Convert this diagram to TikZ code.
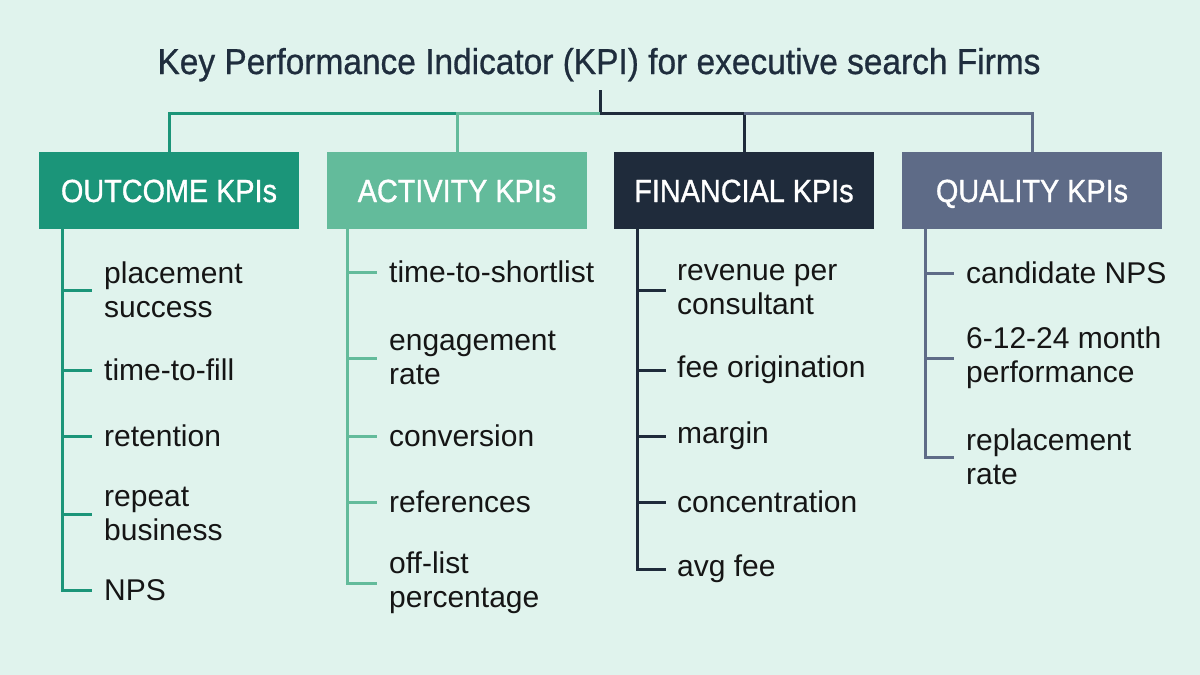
\documentclass[tikz,border=0pt]{standalone}
\usepackage{fontspec}
\setmainfont{Liberation Sans}
\newfontfamily\medfont[FakeBold=1.2]{Liberation Sans}
\newfontfamily\ttlfont[FakeBold=0.8]{Liberation Sans}
\usepackage{graphicx}
\definecolor{bg}{HTML}{E0F3ED}
\definecolor{cout}{HTML}{1B9579}
\definecolor{cact}{HTML}{63BB9B}
\definecolor{cfin}{HTML}{1F2B3B}
\definecolor{cqual}{HTML}{5E6B87}
\definecolor{ttl}{HTML}{1F2D3D}
\definecolor{itm}{HTML}{151515}
\tikzset{
  hdr/.style={minimum width=260pt, minimum height=77pt, inner sep=0pt, text=white,
    text height=23pt, text depth=0pt,
    font=\medfont\fontsize{32}{36}\selectfont},
  itemtxt/.style={anchor=west, inner sep=0pt, align=left, text=itm,
    font=\fontsize{30}{34}\selectfont},
  conn/.style={line width=3pt},
}
\begin{document}
\begin{tikzpicture}[x=1pt,y=-1pt]
\fill[bg] (0,0) rectangle (1200,675);
\useasboundingbox (0,0) rectangle (1200,675);

\node[anchor=base, inner sep=0pt, text=ttl, font=\ttlfont\fontsize{36}{40}\selectfont] (t) at (599,74)
  {\resizebox{883pt}{\height}{Key Performance Indicator (KPI) for executive search Firms}};
\coordinate (stemtop) at (600,90);
\coordinate (hub) at (600,113);

\node[hdr, fill=cout] (ob) at (169,190.5) {\scalebox{0.9}[1]{OUTCOME KPIs}};
\node[hdr, fill=cact] (ab) at (457,190.5) {\scalebox{0.9}[1]{ACTIVITY KPIs}};
\node[hdr, fill=cfin] (fb) at (744,190.5) {\scalebox{0.9}[1]{FINANCIAL KPIs}};
\node[hdr, fill=cqual] (qb) at (1032,190.5) {\scalebox{0.9}[1]{QUALITY KPIs}};

% top connectors
\draw[conn, cfin] (stemtop) -- (hub);
\draw[conn, cout] (ob.north) |- (ab.north |- hub);
\draw[conn, cact] (ab.north) |- (hub);
\draw[conn, cfin] (fb.north) |- (hub);
\draw[conn, cqual] (qb.north) |- (fb.north |- hub);

% Outcome items
\node[itemtxt] (o1) at (104,290) {placement\\success};
\node[itemtxt] (o2) at (104,370) {time-to-fill};
\node[itemtxt] (o3) at (104,436) {retention};
\node[itemtxt] (o4) at (104,514) {repeat\\business};
\node[itemtxt] (o5) at (104,590) {NPS};
\draw[conn, cout] ([xshift=24pt]ob.south west) |- ([xshift=-12pt]o5.west);
\foreach \n in {o1,o2,o3,o4}
  \draw[conn, cout] ([xshift=-42.5pt]\n.west) -- ([xshift=-12pt]\n.west);

% Activity items
\node[itemtxt] (a1) at (389,272) {time-to-shortlist};
\node[itemtxt] (a2) at (389,358) {engagement\\rate};
\node[itemtxt] (a3) at (389,436) {conversion};
\node[itemtxt] (a4) at (389,502) {references};
\node[itemtxt] (a5) at (389,583) {off-list\\percentage};
\draw[conn, cact] ([xshift=21pt]ab.south west) |- ([xshift=-12pt]a5.west);
\foreach \n in {a1,a2,a3,a4}
  \draw[conn, cact] ([xshift=-42.5pt]\n.west) -- ([xshift=-12pt]\n.west);

% Financial items
\node[itemtxt] (f1) at (677,290) {revenue per\\consultant};
\node[itemtxt] (f2) at (677,370) {fee origination};
\node[itemtxt] (f3) at (677,436) {margin};
\node[itemtxt] (f4) at (677,502) {concentration};
\node[itemtxt] (f5) at (677,569) {avg fee};
\draw[conn, cfin] ([xshift=24pt]fb.south west) |- ([xshift=-11pt]f5.west);
\foreach \n in {f1,f2,f3,f4}
  \draw[conn, cfin] ([xshift=-40.5pt]\n.west) -- ([xshift=-11pt]\n.west);

% Quality items
\node[itemtxt] (q1) at (966,273) {candidate NPS};
\node[itemtxt] (q2) at (966,358) {6-12-24 month\\performance};
\node[itemtxt] (q3) at (966,457) {replacement\\rate};
\draw[conn, cqual] ([xshift=24pt]qb.south west) |- ([xshift=-12pt]q3.west);
\foreach \n in {q1,q2}
  \draw[conn, cqual] ([xshift=-41.5pt]\n.west) -- ([xshift=-12pt]\n.west);
\end{tikzpicture}
\end{document}
